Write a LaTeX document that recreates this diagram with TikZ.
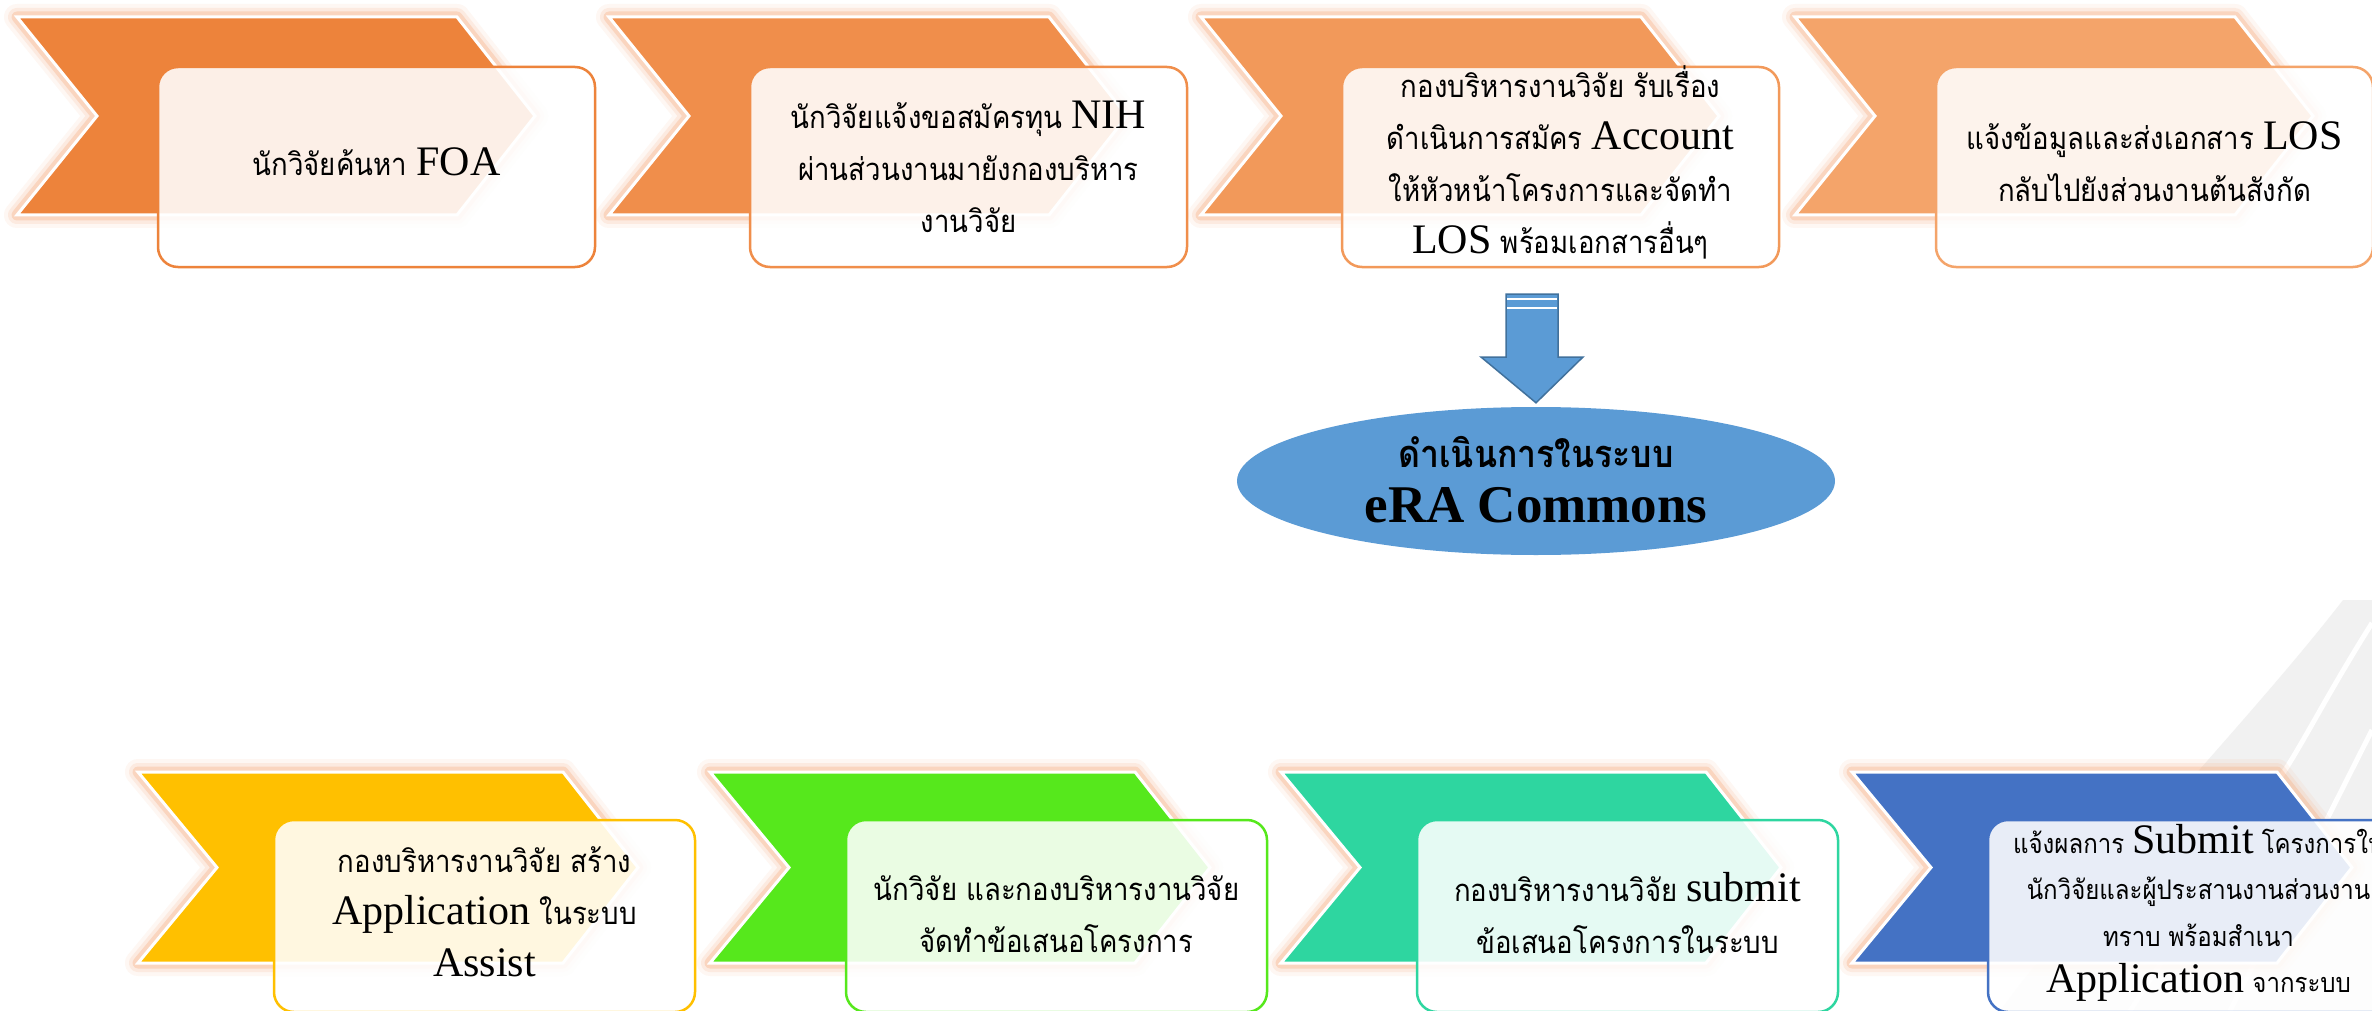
\documentclass[tikz,border=0pt]{standalone}
\usepackage{fontspec}
\setmainfont{Liberation Serif}
\newfontfamily\thaif[Script=Thai, FakeStretch=0.89]{Loma}
\usetikzlibrary{shapes.geometric}
\definecolor{cA}{HTML}{ED833B}
\definecolor{cB}{HTML}{F08E4B}
\definecolor{cC}{HTML}{F2995A}
\definecolor{cD}{HTML}{F4A46A}
\definecolor{cE}{HTML}{FFC000}
\definecolor{cF}{HTML}{56E81C}
\definecolor{cG}{HTML}{2ED6A0}
\definecolor{cH}{HTML}{4472C4}
\definecolor{glowc}{HTML}{F7B48A}
\definecolor{arrowc}{HTML}{5B9BD5}
\definecolor{arrowe}{HTML}{41719C}
\definecolor{greyc}{HTML}{F1F1F1}
\newcommand\lat[1]{{\rmfamily\fontsize{42}{52}\selectfont #1}}
% #1 left x, #2 top y, #3 bottom y, #4 top length, #5 tip, #6 notch, #7 colour
\newcommand\mychev[7]{%
  \pgfmathsetmacro\ymid{(#2+#3)/2}%
  \foreach \w/\o in {26/0.10,18/0.18,11/0.38}{%
    \draw[glowc, line width=\w pt, opacity=\o, line join=round]
      (#1,#2) -- (#1+#4,#2) -- (#1+#5,\ymid) -- (#1+#4,#3) -- (#1,#3) -- (#1+#6,\ymid) -- cycle;}
  \draw[fill=#7, draw=white, line width=3pt, line join=miter]
      (#1,#2) -- (#1+#4,#2) -- (#1+#5,\ymid) -- (#1+#4,#3) -- (#1,#3) -- (#1+#6,\ymid) -- cycle;
}
\tikzset{
  boxtop/.style={rectangle, rounded corners=20pt, line width=2.5pt, fill=white,
    fill opacity=0.88, draw opacity=1, minimum width=437pt, minimum height=200pt, inner sep=0pt},
  boxbot/.style={boxtop, minimum width=421pt, minimum height=192pt},
  txt/.style={align=center, inner sep=0pt, text=black,
    font=\thaif\fontsize{31}{52}\selectfont},
}
\begin{document}
\begin{tikzpicture}[x=1pt,y=-1pt]
\clip (0,0) rectangle (2372,1011);
\useasboundingbox (0,0) rectangle (2372,1011);
\fill[white] (0,0) rectangle (2372,1011);
% background decoration
\fill[greyc] (2343,600) -- (2372,600) -- (2372,1011) -- (2000,1011)
  .. controls (2120,850) and (2250,720) .. (2343,600) -- cycle;
\draw[white, line width=5pt] (2372,623) .. controls (2330,690) and (2310,730) .. (2287,767) -- (2130,1011);
\draw[white, line width=5pt] (2372,730) -- (2230,1011);
% top row chevrons
\mychev{17}{17}{215}{440}{518}{80}{cA}
\mychev{609}{17}{215}{440}{518}{80}{cB}
\mychev{1201}{17}{215}{440}{518}{80}{cC}
\mychev{1795}{17}{215}{440}{518}{80}{cD}
% bottom row chevrons
\mychev{138}{772}{963}{425}{500}{79}{cE}
\mychev{710}{772}{963}{425}{500}{79}{cF}
\mychev{1281}{772}{963}{425}{500}{79}{cG}
\mychev{1852}{772}{963}{425}{500}{79}{cH}
% top boxes
\node[boxtop, draw=cA] (b1) at (376.5,167) {};
\node[boxtop, draw=cB] (b2) at (968.5,167) {};
\node[boxtop, draw=cC] (b3) at (1560.5,167) {};
\node[boxtop, draw=cD] (b4) at (2154.5,167) {};
% bottom boxes
\node[boxbot, draw=cE] (b5) at (484.5,916) {};
\node[boxbot, draw=cF] (b6) at (1056.5,916) {};
\node[boxbot, draw=cG] (b7) at (1627.5,916) {};
\node[boxbot, draw=cH] (b8) at (2198.5,916) {};
% texts
\node[txt] (t1) at ([yshift=5pt]b1.center) {นักวิจัยค้นหา \lat{FOA}};
\node[txt] (t2) at (b2.center) {นักวิจัยแจ้งขอสมัครทุน \lat{NIH}\\ผ่านส่วนงานมายังกองบริหาร\\งานวิจัย};
\node[txt] (t3) at ([yshift=5pt]b3.center) {กองบริหารงานวิจัย รับเรื่อง\\ดำเนินการสมัคร \lat{Account}\\ให้หัวหน้าโครงการและจัดทำ\\\lat{LOS} พร้อมเอกสารอื่นๆ};
\node[txt] (t4) at ([yshift=5pt]b4.center) {แจ้งข้อมูลและส่งเอกสาร \lat{LOS}\\กลับไปยังส่วนงานต้นสังกัด};
\node[txt] (t5) at ([yshift=4pt]b5.center) {กองบริหารงานวิจัย สร้าง\\\lat{Application} ในระบบ\\\lat{Assist}};
\node[txt] (t6) at ([yshift=2pt]b6.center) {นักวิจัย และกองบริหารงานวิจัย\\จัดทำข้อเสนอโครงการ};
\node[txt] (t7) at ([yshift=3pt]b7.center) {กองบริหารงานวิจัย \lat{submit}\\ข้อเสนอโครงการในระบบ};
\node[txt, font=\thaif\fontsize{27}{46.5}\selectfont] (t8) at ([yshift=3pt]b8.center) {แจ้งผลการ \lat{Submit} โครงการให้\\นักวิจัยและผู้ประสานงานส่วนงาน\\ทราบ พร้อมสำเนา\\\lat{Application} จากระบบ};
% arrow and ellipse
\node[ellipse, fill=arrowc, minimum width=598pt, minimum height=148pt, inner sep=0pt] (el) at (1536,481) {};
\draw[fill=arrowc, draw=arrowe, line width=1.5pt, line join=miter]
  (1506,294) -- (1558,294) -- (1558,357) -- (1583,357) -- ([yshift=4pt]el.north) -- (1481,357) -- (1506,357) -- cycle;
\draw[white, line width=1.2pt] (1507,299) -- (1557,299);
\draw[white, line width=1.2pt] (1507,308) -- (1557,308);
\node[inner sep=0pt, font=\thaif\bfseries\fontsize{38}{44}\selectfont] (el1) at ([yshift=29pt]el.center) {ดำเนินการในระบบ};
\node[inner sep=0pt, font=\rmfamily\bfseries\fontsize{53}{60}\selectfont] (el2) at ([yshift=-24pt]el.center) {eRA Commons};
\end{tikzpicture}
\end{document}
